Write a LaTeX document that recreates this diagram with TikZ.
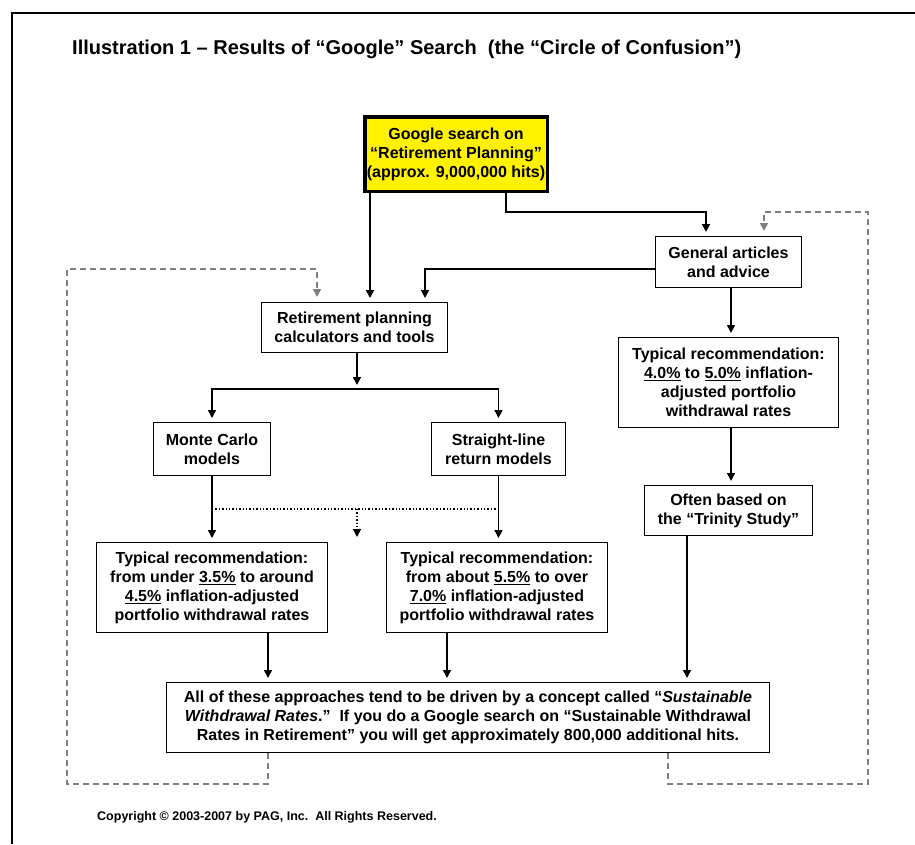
\documentclass[tikz,border=0pt]{standalone}
\usepackage{fontspec}
\setmainfont{Liberation Sans}
\usetikzlibrary{arrows.meta}

\begin{document}
\begin{tikzpicture}[x=1pt, y=-1pt,
    box/.style={rectangle, draw=black, line width=1pt, fill=white, align=center, inner sep=0pt, font=\bfseries\fontsize{16}{19}\selectfont},
    searchBox/.style={box, line width=3.5pt, fill=yellow},
    arrow/.style={line width=1.6pt, -{Triangle[length=8pt,width=8pt]}, shorten >=4pt},
    feedback/.style={line width=1.6pt, black!50, dash pattern=on 6pt off 4pt, -{Triangle[length=8pt,width=8pt]}, shorten >=5pt},
    dotArrow/.style={line width=1.4pt, dotted, -{Triangle[length=8pt,width=8pt]}, shorten >=4pt}
]
\useasboundingbox (0,0) rectangle (915,844);

% page frame and title
\draw[line width=2.5pt] (12,844) -- (12,13) -- (915,13);
\node[anchor=base west, inner sep=0pt, font=\bfseries\fontsize{20}{24}\selectfont] (title) at (72,54) {Illustration 1 – Results of “Google” Search\ \ (the “Circle of Confusion”)};

% Boxes
\node[searchBox, minimum width=182.5pt, minimum height=74.5pt] (google) at (456,154) {Google search on\\“Retirement Planning”\\(approx. 9,000,000 hits)};
\node[box, minimum width=146pt, minimum height=51pt] (general) at (728.5,262) {General articles\\and advice};
\node[box, minimum width=186pt, minimum height=50pt] (retire) at (354.5,327.5) {Retirement planning\\calculators and tools};
\node[box, minimum width=117pt, minimum height=53pt] (monte) at (212,449) {Monte Carlo\\models};
\node[box, minimum width=134pt, minimum height=53pt] (straight) at (498.5,449) {Straight-line\\return models};
\node[box, minimum width=220pt, minimum height=90pt] (typright) at (728.5,382.5) {Typical recommendation:\\\underline{4.0\%} to \underline{5.0\%} inflation-\\adjusted portfolio\\withdrawal rates};
\node[box, minimum width=168pt, minimum height=50pt] (often) at (728.5,510.5) {Often based on\\the “Trinity Study”};
\node[box, minimum width=231pt, minimum height=90pt] (recA) at (212,587.5) {Typical recommendation:\\from under \underline{3.5\%} to around\\\underline{4.5\%} inflation-adjusted\\portfolio withdrawal rates};
\node[box, minimum width=221pt, minimum height=90pt] (recB) at (497,587.5) {Typical recommendation:\\from about \underline{5.5\%} to over\\\underline{7.0\%} inflation-adjusted\\portfolio withdrawal rates};
\node[box, minimum width=603pt, minimum height=70pt] (bottom) at (468,717.5) {All of these approaches tend to be driven by a concept called “\textit{Sustainable}\\\textit{Withdrawal Rates}.”\ \ If you do a Google search on “Sustainable Withdrawal\\Rates in Retirement” you will get approximately 800,000 additional hits.};

% Copyright line
\node[anchor=base west, inner sep=0pt, font=\bfseries\fontsize{12.5}{15}\selectfont] (copyright) at (97,820) {Copyright © 2003-2007 by PAG, Inc.\ \ All Rights Reserved.};

% Arrows from the search
\draw[arrow] ([xshift=-86pt]google.south) -- ([xshift=-86pt]google.south |- retire.north);
\draw[arrow] ([xshift=50pt]google.south) -- ++(0,19) -| ([xshift=-22.5pt]general.north);
\draw[arrow] ([yshift=-7pt]general.west) -| ([xshift=70.5pt]retire.north);

% Calculators split into two kinds of models
\draw[arrow] ([xshift=2.5pt]retire.south) -- ++(0,36) coordinate (split);
\draw[arrow] (split) -| (monte.north);
\draw[arrow] (split) -| (straight.north);
\draw[arrow] (monte.south) -- (recA.north);
\draw[arrow] (straight.south) -- (straight.south |- recB.north);

% dotted link between the models
\coordinate (dotMid) at (357,509);
\draw[line width=1.4pt, dotted] (monte.south |- dotMid) -- (straight.south |- dotMid);
\draw[dotArrow] (dotMid) -- ++(0,32);

% Right column
\draw[arrow] ([xshift=2.5pt]general.south) -- ([xshift=2.5pt]general.south |- typright.north);
\draw[arrow] ([xshift=2.5pt]typright.south) -- ([xshift=2.5pt]typright.south |- often.north);

% Into the bottom box
\draw[arrow] ([xshift=56pt]recA.south) -- ([xshift=56pt]recA.south |- bottom.north);
\draw[arrow] ([xshift=-50pt]recB.south) -- ([xshift=-50pt]recB.south |- bottom.north);
\draw[arrow] ([xshift=-41.5pt]often.south) -- ([xshift=-41.5pt]often.south |- bottom.north);

% Feedback loops (the circle)
\draw[feedback] ([xshift=-200pt]bottom.south) -- ++(0,31) -| ++(-201,-515) -| ([xshift=-37.5pt]retire.north);
\draw[feedback] ([xshift=200pt]bottom.south) -- ++(0,31) -| ++(200,-572) -| ([xshift=35.5pt]general.north);

\end{tikzpicture}
\end{document}
